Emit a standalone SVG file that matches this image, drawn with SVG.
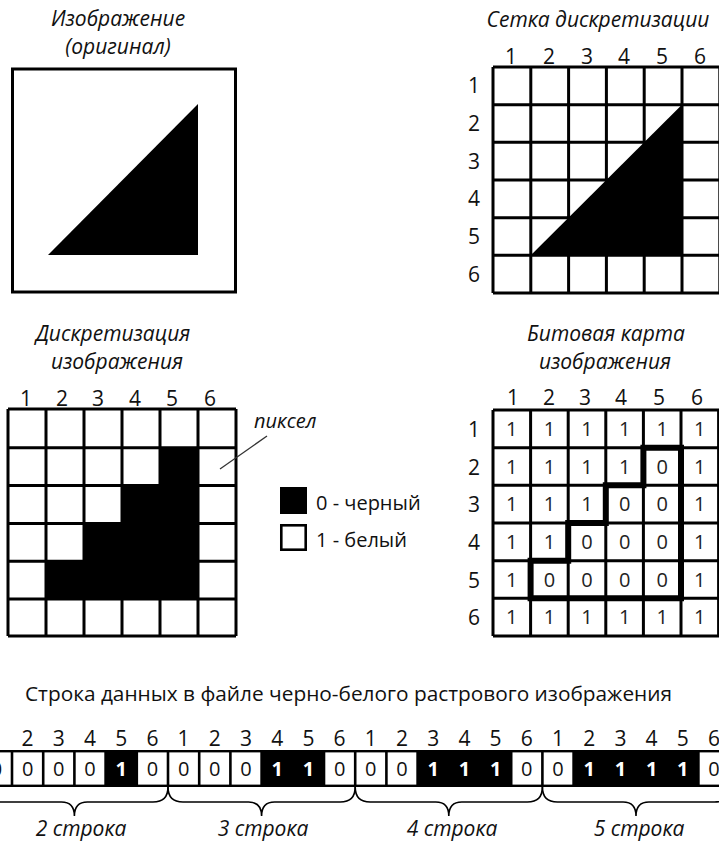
<svg xmlns="http://www.w3.org/2000/svg" width="719" height="841" viewBox="0 0 719 841">
<style>
text{font-family:"Open Sans","Noto Sans","DejaVu Sans",sans-serif;fill:#111}
.t{font-size:21px;font-style:italic;text-anchor:middle}
.lbl{font-size:21px;text-anchor:middle}
.cell{font-size:20px;text-anchor:middle;fill:#222}
.grid{fill:none;stroke:#000;stroke-width:3}
.sd{font-size:20px;text-anchor:middle}
.sb{font-size:20px;font-weight:bold;text-anchor:middle;fill:#fff}
.brace{fill:none;stroke:#000;stroke-width:1.6}
.leg{font-size:20px}
</style>

<g id="original">
  <text class="t" x="118" y="26">Изображение</text>
  <text class="t" x="118" y="54">(оригинал)</text>
  <rect x="12.5" y="69" width="223" height="223" fill="#fff" stroke="#000" stroke-width="3"/>
  <polygon points="48,255 198,104 198,255" fill="#000"/>
</g>

<g id="sampling-grid">
  <text class="t" x="598" y="27">Сетка дискретизации</text>
  <text class="lbl" x="511" y="64">1</text>
  <text class="lbl" x="549" y="64">2</text>
  <text class="lbl" x="587" y="64">3</text>
  <text class="lbl" x="624" y="64">4</text>
  <text class="lbl" x="662" y="64">5</text>
  <text class="lbl" x="700" y="64">6</text>
  <text class="lbl" x="474" y="93">1</text>
  <text class="lbl" x="474" y="131">2</text>
  <text class="lbl" x="474" y="169">3</text>
  <text class="lbl" x="474" y="206">4</text>
  <text class="lbl" x="474" y="244">5</text>
  <text class="lbl" x="474" y="282">6</text>
  <polygon points="530.8,255.3 681.9,104.7 681.9,255.3" fill="#000"/>
  <path class="grid" d="M493,67V293M530.8,67V293M568.6,67V293M606.4,67V293M644.2,67V293M682,67V293M719.8,67V293M493,67H720M493,104.7H720M493,142.3H720M493,180H720M493,217.7H720M493,255.3H720M493,293H720"/>
</g>

<g id="discretized">
  <text class="t" x="113" y="341">Дискретизация</text>
  <text class="t" x="117" y="369">изображения</text>
  <text class="lbl" x="26" y="406">1</text>
  <text class="lbl" x="62" y="406">2</text>
  <text class="lbl" x="98" y="406">3</text>
  <text class="lbl" x="135" y="406">4</text>
  <text class="lbl" x="172" y="406">5</text>
  <text class="lbl" x="210" y="406">6</text>
  <rect x="160" y="447.8" width="38" height="37.8" fill="#000"/>
  <rect x="122" y="485.6" width="76" height="37.8" fill="#000"/>
  <rect x="84" y="523.4" width="114" height="37.8" fill="#000"/>
  <rect x="46" y="561.2" width="152" height="37.8" fill="#000"/>
  <path class="grid" d="M8,409V636M46,409V636M84,409V636M122,409V636M160,409V636M198,409V636M236,409V636M8,409H236M8,447.8H236M8,485.6H236M8,523.4H236M8,561.2H236M8,599H236M8,636H236"/>
</g>

<g id="pixel-label">
  <text x="254" y="428" style="font-size:20px;font-style:italic">пиксел</text>
  <line x1="220" y1="469" x2="267" y2="436" stroke="#333" stroke-width="1.3"/>
</g>

<g id="legend">
  <rect x="280" y="487" width="27" height="27" fill="#000"/>
  <text class="leg" x="316" y="510">0 - черный</text>
  <rect x="281.3" y="525.3" width="24.4" height="24.4" fill="#fff" stroke="#000" stroke-width="2.6"/>
  <text class="leg" x="316" y="547">1 - белый</text>
</g>

<g id="bitmap">
  <text class="t" x="606" y="341">Битовая карта</text>
  <text class="t" x="605" y="369">изображения</text>
  <text class="lbl" x="513" y="405">1</text>
  <text class="lbl" x="549" y="405">2</text>
  <text class="lbl" x="585" y="405">3</text>
  <text class="lbl" x="621" y="405">4</text>
  <text class="lbl" x="659" y="405">5</text>
  <text class="lbl" x="697" y="405">6</text>
  <text class="lbl" x="474" y="437">1</text>
  <text class="lbl" x="474" y="475">2</text>
  <text class="lbl" x="474" y="512">3</text>
  <text class="lbl" x="474" y="550">4</text>
  <text class="lbl" x="474" y="588">5</text>
  <text class="lbl" x="474" y="625">6</text>
  <path class="grid" d="M493,410V636M530.6,410V636M568.2,410V636M605.8,410V636M643.4,410V636M681,410V636M718.6,410V636M493,410H720M493,447.7H720M493,485.3H720M493,523H720M493,560.7H720M493,598.3H720M493,636H720"/>
  <path d="M643.4,447.7H681V598.3H530.6V560.7H568.2V523H605.8V485.3H643.4Z" fill="none" stroke="#000" stroke-width="6" stroke-linejoin="miter"/>
  <g>
    <text class="cell" x="511.8" y="436">1</text><text class="cell" x="549.4" y="436">1</text><text class="cell" x="587" y="436">1</text><text class="cell" x="624.6" y="436">1</text><text class="cell" x="662.2" y="436">1</text><text class="cell" x="699.8" y="436">1</text>
    <text class="cell" x="511.8" y="473.7">1</text><text class="cell" x="549.4" y="473.7">1</text><text class="cell" x="587" y="473.7">1</text><text class="cell" x="624.6" y="473.7">1</text><text class="cell" x="662.2" y="473.7">0</text><text class="cell" x="699.8" y="473.7">1</text>
    <text class="cell" x="511.8" y="511.4">1</text><text class="cell" x="549.4" y="511.4">1</text><text class="cell" x="587" y="511.4">1</text><text class="cell" x="624.6" y="511.4">0</text><text class="cell" x="662.2" y="511.4">0</text><text class="cell" x="699.8" y="511.4">1</text>
    <text class="cell" x="511.8" y="549">1</text><text class="cell" x="549.4" y="549">1</text><text class="cell" x="587" y="549">0</text><text class="cell" x="624.6" y="549">0</text><text class="cell" x="662.2" y="549">0</text><text class="cell" x="699.8" y="549">1</text>
    <text class="cell" x="511.8" y="586.7">1</text><text class="cell" x="549.4" y="586.7">0</text><text class="cell" x="587" y="586.7">0</text><text class="cell" x="624.6" y="586.7">0</text><text class="cell" x="662.2" y="586.7">0</text><text class="cell" x="699.8" y="586.7">1</text>
    <text class="cell" x="511.8" y="624.4">1</text><text class="cell" x="549.4" y="624.4">1</text><text class="cell" x="587" y="624.4">1</text><text class="cell" x="624.6" y="624.4">1</text><text class="cell" x="662.2" y="624.4">1</text><text class="cell" x="699.8" y="624.4">1</text>
  </g>
</g>

<g id="data-string">
  <text x="348.5" y="701" style="font-size:20px;text-anchor:middle" textLength="647" lengthAdjust="spacingAndGlyphs">Строка данных в файле черно-белого растрового изображения</text>
  <g>
    <text class="lbl" x="27.6" y="746">2</text><text class="lbl" x="58.8" y="746">3</text><text class="lbl" x="90" y="746">4</text><text class="lbl" x="121.2" y="746">5</text><text class="lbl" x="152.4" y="746">6</text>
    <text class="lbl" x="183.6" y="746">1</text><text class="lbl" x="214.8" y="746">2</text><text class="lbl" x="246" y="746">3</text><text class="lbl" x="277.2" y="746">4</text><text class="lbl" x="308.4" y="746">5</text><text class="lbl" x="339.6" y="746">6</text>
    <text class="lbl" x="370.8" y="746">1</text><text class="lbl" x="402" y="746">2</text><text class="lbl" x="433.2" y="746">3</text><text class="lbl" x="464.4" y="746">4</text><text class="lbl" x="495.6" y="746">5</text><text class="lbl" x="526.8" y="746">6</text>
    <text class="lbl" x="558" y="746">1</text><text class="lbl" x="589.2" y="746">2</text><text class="lbl" x="620.4" y="746">3</text><text class="lbl" x="651.6" y="746">4</text><text class="lbl" x="682.8" y="746">5</text><text class="lbl" x="714" y="746">6</text>
  </g>
  <rect x="-20" y="750" width="760" height="37" fill="#000"/>
  <g fill="#fff">
    <rect x="-17.9" y="752.4" width="28.6" height="32.2"/>
    <rect x="13.3" y="752.4" width="28.6" height="32.2"/>
    <rect x="44.5" y="752.4" width="28.6" height="32.2"/>
    <rect x="75.7" y="752.4" width="28.6" height="32.2"/>
    <rect x="138.1" y="752.4" width="28.6" height="32.2"/>
    <rect x="169.3" y="752.4" width="28.6" height="32.2"/>
    <rect x="200.5" y="752.4" width="28.6" height="32.2"/>
    <rect x="231.7" y="752.4" width="28.6" height="32.2"/>
    <rect x="325.3" y="752.4" width="28.6" height="32.2"/>
    <rect x="356.5" y="752.4" width="28.6" height="32.2"/>
    <rect x="387.7" y="752.4" width="28.6" height="32.2"/>
    <rect x="512.5" y="752.4" width="28.6" height="32.2"/>
    <rect x="543.7" y="752.4" width="28.6" height="32.2"/>
    <rect x="699.7" y="752.4" width="28.6" height="32.2"/>
  </g>
  <g>
    <text class="sd" x="-3.6" y="776">0</text><text class="sd" x="27.6" y="776">0</text><text class="sd" x="58.8" y="776">0</text><text class="sd" x="90" y="776">0</text><text class="sb" x="121.2" y="776">1</text><text class="sd" x="152.4" y="776">0</text>
    <text class="sd" x="183.6" y="776">0</text><text class="sd" x="214.8" y="776">0</text><text class="sd" x="246" y="776">0</text><text class="sb" x="277.2" y="776">1</text><text class="sb" x="308.4" y="776">1</text><text class="sd" x="339.6" y="776">0</text>
    <text class="sd" x="370.8" y="776">0</text><text class="sd" x="402" y="776">0</text><text class="sb" x="433.2" y="776">1</text><text class="sb" x="464.4" y="776">1</text><text class="sb" x="495.6" y="776">1</text><text class="sd" x="526.8" y="776">0</text>
    <text class="sd" x="558" y="776">0</text><text class="sb" x="589.2" y="776">1</text><text class="sb" x="620.4" y="776">1</text><text class="sb" x="651.6" y="776">1</text><text class="sb" x="682.8" y="776">1</text><text class="sd" x="714" y="776">0</text>
  </g>
</g>

<g id="connectors">
  <path class="brace" d="M-19.2,787Q-19.2,802 -4.2,802L61.4,802Q74.4,802 74.4,816Q74.4,802 87.4,802L153,802Q168,802 168,787"/>
  <path class="brace" d="M168,787Q168,802 183,802L248.6,802Q261.6,802 261.6,816Q261.6,802 274.6,802L340.2,802Q355.2,802 355.2,787"/>
  <path class="brace" d="M355.2,787Q355.2,802 370.2,802L435.8,802Q448.8,802 448.8,816Q448.8,802 461.8,802L527.4,802Q542.4,802 542.4,787"/>
  <path class="brace" d="M542.4,787Q542.4,802 557.4,802L623,802Q636,802 636,816Q636,802 649,802L714.6,802Q729.6,802 729.6,787"/>
</g>

<g id="row-labels">
  <text class="t" x="81" y="836">2 строка</text>
  <text class="t" x="263" y="836">3 строка</text>
  <text class="t" x="452" y="836">4 строка</text>
  <text class="t" x="639" y="836">5 строка</text>
</g>
</svg>
